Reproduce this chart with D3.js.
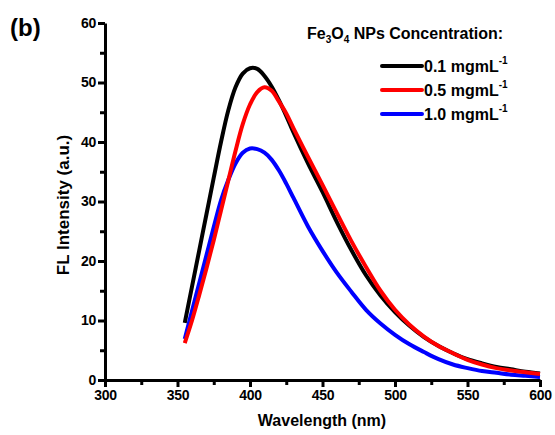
<!DOCTYPE html>
<html>
<head>
<meta charset="utf-8">
<script src="https://cdn.jsdelivr.net/npm/d3@7"></script>
<style>
  body { margin: 0; background: #fff; }
  text { font-family: "Liberation Sans", Arial, sans-serif; font-weight: bold; }
</style>
</head>
<body>
<svg id="chart" width="555" height="435"></svg>
<script>
const wavelengths = [355, 360, 365, 370, 375, 380, 385, 390, 395, 400, 405, 410, 415, 420, 425, 430,
    440, 450, 460, 470, 480, 490, 500, 510, 520, 530, 540, 550, 560, 570, 580, 590, 600];

const conc01 = [9.6, 15.7, 21.8, 27.9, 34.0, 40.0, 45.3, 49.2, 51.5, 52.4, 52.3, 51.1, 49.3, 47.0, 44.4, 41.6,
    36.4, 31.6, 26.5, 21.8, 17.6, 14.2, 11.4, 9.1, 7.2, 5.7, 4.5, 3.5, 2.8, 2.2, 1.8, 1.4, 1.1];
const conc05 = [6.2, 10.0, 14.3, 18.8, 23.5, 28.5, 33.5, 38.5, 43.0, 46.3, 48.4, 49.2, 48.6, 46.8, 44.8, 42.3,
    37.5, 32.8, 28.0, 23.3, 19.0, 15.0, 11.8, 9.3, 7.3, 5.7, 4.5, 3.4, 2.6, 2.0, 1.6, 1.3, 1.0];
const conc10 = [6.9, 11.6, 16.3, 21.0, 25.7, 30.2, 33.6, 36.4, 38.2, 38.9, 38.8, 38.2, 37.0, 35.2, 33.0, 30.6,
    25.8, 21.7, 18.0, 14.8, 11.8, 9.5, 7.6, 6.0, 4.7, 3.5, 2.6, 2.0, 1.5, 1.2, 0.9, 0.7, 0.5];

const seriesNames = ["0.1 mgmL", "0.5 mgmL", "1.0 mgmL"];
const seriesColors = ["#000000", "#ff0000", "#0000ff"];
const series = [conc01, conc05, conc10];

const xTicks = [300, 350, 400, 450, 500, 550, 600];
const yTicks = [0, 10, 20, 30, 40, 50, 60];

const svg = d3.select("#chart");

const x = d3.scaleLinear().domain([300, 600]).range([105, 540]);
const y = d3.scaleLinear().domain([0, 60]).range([380, 23]);

// minor ticks first, majors on top
svg.append("g")
    .attr("transform", "translate(0,380)")
    .call(d3.axisBottom(x).tickValues(d3.range(325, 600, 50)).tickSize(5).tickFormat(""))
    .call(g => g.select(".domain").remove())
    .selectAll("line").attr("stroke-width", 3);

svg.append("g")
    .attr("transform", "translate(105,0)")
    .call(d3.axisLeft(y).tickValues(d3.range(5, 60, 10)).tickSize(5).tickFormat(""))
    .call(g => g.select(".domain").remove())
    .selectAll("line").attr("stroke-width", 3);

const xAxis = svg.append("g")
    .attr("transform", "translate(0,380)")
    .call(d3.axisBottom(x).tickValues(xTicks).tickSize(7).tickSizeOuter(0).tickPadding(3));
xAxis.select(".domain").attr("stroke-width", 3);
xAxis.selectAll(".tick line").attr("stroke-width", 3);
xAxis.selectAll(".tick text")
    .attr("font-size", 14)
    .attr("font-weight", "bold")
    .attr("letter-spacing", -0.3)
    .attr("fill", "#000");

const yAxis = svg.append("g")
    .attr("transform", "translate(105,0)")
    .call(d3.axisLeft(y).tickValues(yTicks).tickSize(7).tickSizeOuter(0).tickPadding(2));
yAxis.select(".domain").attr("stroke-width", 3);
yAxis.selectAll(".tick line").attr("stroke-width", 3);
yAxis.selectAll(".tick text")
    .attr("font-size", 14)
    .attr("font-weight", "bold")
    .attr("letter-spacing", -0.3)
    .attr("fill", "#000");

const line = d3.line()
    .x((d, i) => x(wavelengths[i]))
    .y(d => y(d))
    .curve(d3.curveCatmullRom);

// blue drawn first so black and red sit over it
[2, 0, 1].forEach(k => {
    svg.append("path")
        .datum(series[k])
        .attr("fill", "none")
        .attr("stroke", seriesColors[k])
        .attr("stroke-width", 4)
        .attr("stroke-linejoin", "round")
        .attr("d", line);
});

// axis titles
svg.append("text")
    .attr("x", 322)
    .attr("y", 426)
    .attr("text-anchor", "middle")
    .attr("font-size", 16)
    .text("Wavelength (nm)");

svg.append("text")
    .attr("transform", "translate(69,205) rotate(-90)")
    .attr("text-anchor", "middle")
    .attr("font-size", 17)
    .text("FL Intensity (a.u.)");

svg.append("text")
    .attr("x", 10)
    .attr("y", 36)
    .attr("font-size", 24)
    .text("(b)");

// legend
const title = svg.append("text")
    .attr("x", 307)
    .attr("y", 39)
    .attr("font-size", 16);
title.append("tspan").text("Fe");
title.append("tspan").attr("font-size", 10).attr("dy", 4).text("3");
title.append("tspan").attr("dy", -4).text("O");
title.append("tspan").attr("font-size", 10).attr("dy", 4).text("4");
title.append("tspan").attr("dy", -4).text(" NPs Concentration:");

const legend = svg.append("g");
seriesNames.forEach((name, i) => {
    const ly = 66 + i * 24;
    legend.append("line")
        .attr("x1", 382)
        .attr("x2", 422)
        .attr("y1", ly)
        .attr("y2", ly)
        .attr("stroke", seriesColors[i])
        .attr("stroke-width", 4)
        .attr("stroke-linecap", "round");
    const t = legend.append("text")
        .attr("x", 424)
        .attr("y", ly + 6)
        .attr("font-size", 16);
    t.append("tspan").text(name);
    t.append("tspan").attr("font-size", 10).attr("dy", -8).text("-1");
});
</script>
</body>
</html>
